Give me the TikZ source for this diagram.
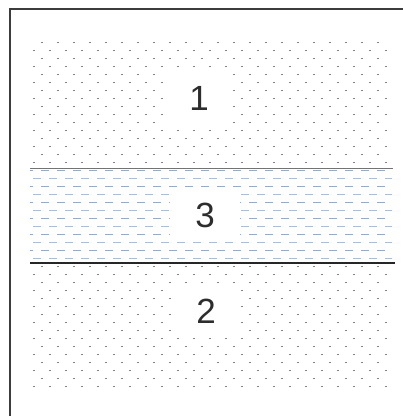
\documentclass[tikz,border=0pt]{standalone}
\usepackage{fontspec}
\setmainfont{Liberation Sans}
\definecolor{dotc}{RGB}{140,125,125}
\definecolor{bluethin}{RGB}{135,172,226}
\definecolor{bluethick}{RGB}{160,190,234}
\definecolor{framec}{RGB}{60,60,60}
\definecolor{labc}{RGB}{45,45,45}
\newcommand\mydotgrid[1]{%
  \foreach \k in {0,...,7}{\foreach \j in {0,...,21}{%
    \fill[dotc] ({41.3+16*\j},{#1-0.7+16*\k}) rectangle ++(1.4,1.4);}}%
  \foreach \k in {0,...,7}{\foreach \j in {0,...,22}{%
    \fill[dotc] ({33.3+16*\j},{#1+7.3+16*\k}) rectangle ++(1.4,1.4);}}%
}
\tikzset{
  lab/.style={fill=white, inner sep=0pt, text=labc, font=\fontsize{35}{35}\selectfont},
  thinrow/.style={bluethin, line width=1pt, dash pattern=on 8pt off 8pt},
  thickrow/.style={bluethick, line width=1.6pt, dash pattern=on 8pt off 8pt},
  frameline/.style={framec, line width=2.5pt},
}
\begin{document}
\begin{tikzpicture}[x=1pt,y=-1pt]
\useasboundingbox (0,0) rectangle (403,416);
% frame
\draw[frameline] (10,416) -- (10,9) -- (403,9);
% region 1 and 2 dots
\mydotgrid{42.3}
\mydotgrid{266.7}
% region 3 dashes
\begin{scope}
  \clip (30,165) rectangle (392,265);
  \foreach \k in {0,...,5}{
    \draw[thinrow] (25,{170.3+16*\k}) -- (395,{170.3+16*\k});
    \draw[thickrow] (33,{178.3+16*\k}) -- (395,{178.3+16*\k});
  }
\end{scope}
% boundaries
\coordinate (a1) at (30,168.7);
\coordinate (a2) at (393,168.7);
\coordinate (b1) at (30,262.7);
\coordinate (b2) at (395,262.7);
\draw[black!55, line width=1pt] (a1) -- (a2);
\draw[black!85, line width=1.6pt] (b1) -- (b2);
% labels
\node[lab, minimum width=64pt, minimum height=56pt] (l1) at (199,98) {1};
\node[lab, minimum width=70pt, minimum height=50pt] (l3) at (205,215) {3};
\node[lab, minimum width=64pt, minimum height=48pt] (l2) at (206,311) {2};
\end{tikzpicture}
\end{document}
